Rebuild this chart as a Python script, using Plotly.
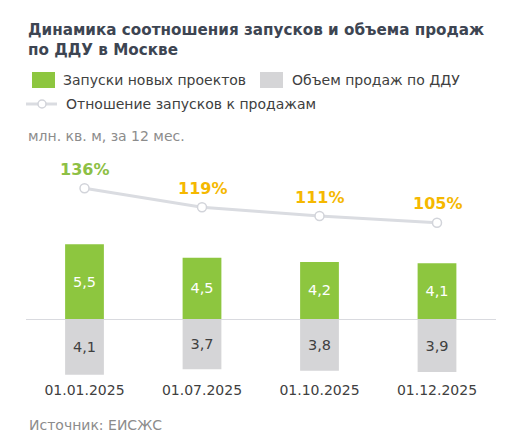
import plotly.graph_objects as go

dates = ["01.01.2025", "01.07.2025", "01.10.2025", "01.12.2025"]
launches = [5.5, 4.5, 4.2, 4.1]
sales = [4.1, 3.7, 3.8, 3.9]
ratio = [136, 119, 111, 105]

# the page body keeps its default 8px margin, so the figure is drawn 8px smaller
# and all positions below are given in window pixels
OFF = 8
W, H = 508 - OFF, 439 - OFF
GREEN = "#8DC63F"
GREY = "#D5D5D7"
FONT = "DejaVu Sans"


def fmt(v):
    return f"{v:.1f}".replace(".", ",")


def px(x):
    return (x - OFF) / W


def py(y):
    return 1 - (y - OFF) / H


fig = go.Figure()

fig.add_trace(go.Bar(
    x=dates, y=launches, name="Запуски новых проектов",
    marker=dict(color=GREEN, line_width=0), width=0.33,
    text=[fmt(v) for v in launches], textposition="inside",
    insidetextanchor="middle", textangle=0,
    textfont=dict(family=FONT, size=14.5, color="white"),
))
fig.add_trace(go.Bar(
    x=dates, y=[-v for v in sales], name="Объем продаж по ДДУ",
    marker=dict(color=GREY, line_width=0), width=0.33,
    text=[fmt(v) for v in sales], textposition="inside",
    insidetextanchor="middle", textangle=0,
    textfont=dict(family=FONT, size=14.5, color="#404040"),
))
fig.add_trace(go.Scatter(
    x=dates, y=ratio, yaxis="y2", mode="lines+markers",
    name="Отношение запусков к продажам",
    line=dict(color="#DADCE1", width=3),
    marker=dict(size=9, color="white", line=dict(color="#D2D4DA", width=1.5)),
))

# percent labels above the line
pct_colors = ["#8DC045"] + ["#F5B800"] * (len(ratio) - 1)
for d, r, c in zip(dates, ratio, pct_colors):
    fig.add_annotation(x=d, y=r, yref="y2", text=f"<b>{r}%</b>", showarrow=False,
                       yshift=19, font=dict(family=FONT, size=16, color=c))

# title, subtitle, source
fig.add_annotation(x=px(26), y=py(19), xref="paper", yref="paper", xanchor="left", yanchor="top",
                   align="left", showarrow=False,
                   text="<b>Динамика соотношения запусков и объема продаж<br>по ДДУ в Москве</b>",
                   font=dict(family=FONT, size=15.2, color="#3D4552"))
fig.add_annotation(x=px(26), y=py(136), xref="paper", yref="paper", xanchor="left", yanchor="middle",
                   showarrow=False, text="млн. кв. м, за 12 мес.",
                   font=dict(family=FONT, size=14, color="#8C8C8C"))
fig.add_annotation(x=px(27), y=py(425), xref="paper", yref="paper", xanchor="left", yanchor="middle",
                   showarrow=False, text="Источник: ЕИСЖС",
                   font=dict(family=FONT, size=14, color="#8C8C8C"))

# custom legend
legend_font = dict(family=FONT, size=14, color="#404040")
fig.add_shape(type="rect", xref="paper", yref="paper", x0=px(32), x1=px(55), y0=py(88), y1=py(72),
              fillcolor=GREEN, line_width=0)
fig.add_annotation(x=px(61), y=py(80), xref="paper", yref="paper", xanchor="left", yanchor="middle",
                   showarrow=False, text="Запуски новых проектов", font=legend_font)
fig.add_shape(type="rect", xref="paper", yref="paper", x0=px(260), x1=px(283), y0=py(88), y1=py(72),
              fillcolor=GREY, line_width=0)
fig.add_annotation(x=px(290), y=py(80), xref="paper", yref="paper", xanchor="left", yanchor="middle",
                   showarrow=False, text="Объем продаж по ДДУ", font=legend_font)
fig.add_shape(type="line", xref="paper", yref="paper", x0=px(26), x1=px(57), y0=py(104), y1=py(104),
              line=dict(color="#DADCE1", width=3))
fig.add_shape(type="circle", xref="paper", yref="paper", x0=px(38), x1=px(46), y0=py(108), y1=py(100),
              fillcolor="white", line=dict(color="#D2D4DA", width=1.5))
fig.add_annotation(x=px(64), y=py(104), xref="paper", yref="paper", xanchor="left", yanchor="middle",
                   showarrow=False, text="Отношение запусков к продажам", font=legend_font)

fig.update_layout(
    width=W, height=H, margin=dict(l=0, r=0, t=0, b=0),
    paper_bgcolor="white", plot_bgcolor="white",
    barmode="relative", showlegend=False,
    xaxis=dict(domain=[px(25.75), px(495.75)], range=[-0.5, 3.5], showgrid=False, showline=False,
               ticks="", tickfont=dict(family=FONT, size=14, color="#404040"), fixedrange=True),
    yaxis=dict(domain=[py(380), py(150)], range=[-4.485, 12.43], showgrid=False, showticklabels=False,
               zeroline=True, zerolinecolor="#D9DADF", zerolinewidth=1),
    yaxis2=dict(overlaying="y", range=[-36.7, 170.5], showgrid=False, showticklabels=False,
                zeroline=False),
)

fig.write_html("out.html")
